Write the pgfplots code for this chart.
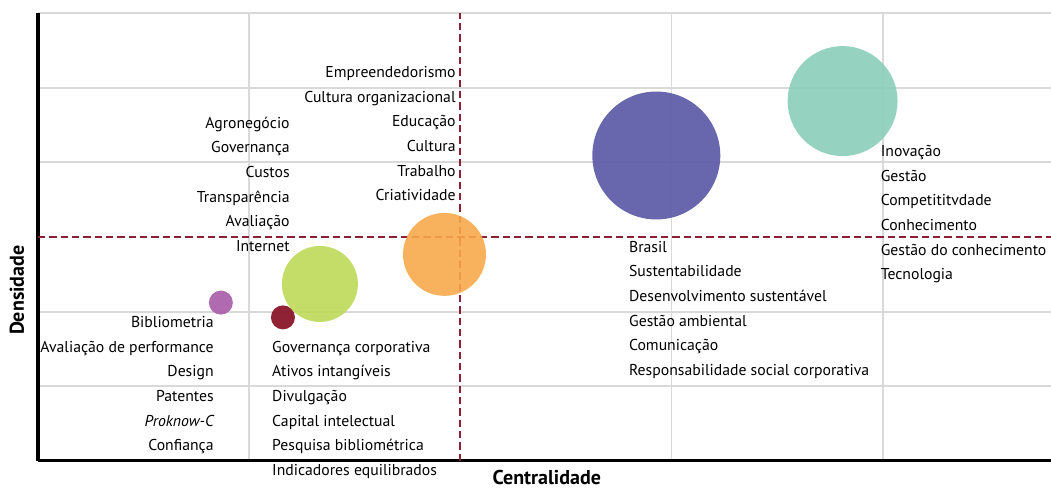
\documentclass[border=0pt]{standalone}
\usepackage{fontspec}
\setmainfont{PT Sans}
\usepackage{pgfplots}
\pgfplotsset{compat=1.18}
\definecolor{cpurp}{HTML}{AC63AC}
\definecolor{cdred}{HTML}{8B1C2E}
\definecolor{cgreen}{HTML}{BFD95B}
\definecolor{corange}{HTML}{F7A84A}
\definecolor{cblue}{HTML}{6260AA}
\definecolor{cteal}{HTML}{8ECFBB}
\definecolor{cdash}{HTML}{8B2035}
\newcommand{\lab}{\fontsize{11.8pt}{13pt}\selectfont}
\tikzset{lbl/.style={font=\lab, inner sep=0pt}}
\begin{document}
\begin{tikzpicture}
\useasboundingbox (-28.5pt,-21.5pt) rectangle (760pt,345.75pt);
\begin{axis}[
  at={(0,0)}, anchor=south west,
  scale only axis, width=760pt, height=336pt,
  xmin=0, xmax=4.797, ymin=0, ymax=6,
  axis x line=bottom, axis y line=left,
  axis line style={-, black, line width=2.3pt},
  xtick={1,3,4}, ytick={1,2,4,5,6},
  xticklabels={}, yticklabels={},
  major tick length=0pt,
  grid=major, grid style={black!15, line width=1.4pt},
  clip=false,
  xlabel={\bfseries Centralidade},
  ylabel={\bfseries Densidade},
  label style={font=\fontsize{15pt}{17pt}\selectfont, inner sep=0pt},
  xlabel style={at={(axis description cs:0.5023,-0.037)}, anchor=center},
  ylabel style={at={(axis description cs:-0.0207,0.381)}, anchor=center},
  every axis plot/.append style={only marks, mark=*},
]
\addplot[no marks, sharp plot, cdash, line width=1.4pt, dash pattern=on 5.5pt off 3pt] coordinates {(2,0) (2,6)};
\addplot[no marks, sharp plot, cdash, line width=1.4pt, dash pattern=on 5.5pt off 3pt] coordinates {(0,3) (4.797,3)};
\addplot[cpurp, mark options={fill=cpurp, draw opacity=0, fill opacity=0.95}, mark size=9pt] coordinates {(0.866,2.12)};
\addplot[cdred, mark options={fill=cdred, draw opacity=0, fill opacity=0.97}, mark size=9pt] coordinates {(1.160,1.922)};
\addplot[cgreen, mark options={fill=cgreen, draw opacity=0, fill opacity=0.92}, mark size=28.5pt] coordinates {(1.335,2.37)};
\addplot[corange, mark options={fill=corange, draw opacity=0, fill opacity=0.9}, mark size=31.1pt] coordinates {(1.925,2.766)};
\addplot[cblue, mark options={fill=cblue, draw opacity=0, fill opacity=0.96}, mark size=48pt] coordinates {(2.928,4.091)};
\addplot[cteal, mark options={fill=cteal, draw opacity=0, fill opacity=0.94}, mark size=41.25pt] coordinates {(3.81,4.82)};
% group A
\node[lbl, anchor=mid east] at (axis cs:1.193,4.50) {Agronegócio};
\node[lbl, anchor=mid east] at (axis cs:1.193,4.17) {Governança};
\node[lbl, anchor=mid east] at (axis cs:1.193,3.84) {Custos};
\node[lbl, anchor=mid east] at (axis cs:1.193,3.51) {Transparência};
\node[lbl, anchor=mid east] at (axis cs:1.193,3.18) {Avaliação};
\node[lbl, anchor=mid east] at (axis cs:1.193,2.85) {Internet};
% group B
\node[lbl, anchor=mid east] at (axis cs:1.979,5.18) {Empreendedorismo};
\node[lbl, anchor=mid east] at (axis cs:1.979,4.85) {Cultura organizacional};
\node[lbl, anchor=mid east] at (axis cs:1.979,4.52) {Educação};
\node[lbl, anchor=mid east] at (axis cs:1.979,4.19) {Cultura};
\node[lbl, anchor=mid east] at (axis cs:1.979,3.86) {Trabalho};
\node[lbl, anchor=mid east] at (axis cs:1.979,3.53) {Criatividade};
% group C
\node[lbl, anchor=mid east] at (axis cs:0.833,1.83) {Bibliometria};
\node[lbl, anchor=mid east] at (axis cs:0.833,1.50) {Avaliação de performance};
\node[lbl, anchor=mid east] at (axis cs:0.833,1.17) {Design};
\node[lbl, anchor=mid east] at (axis cs:0.833,0.84) {Patentes};
\node[lbl, anchor=mid east] at (axis cs:0.833,0.51) {\itshape Proknow-C};
\node[lbl, anchor=mid east] at (axis cs:0.833,0.18) {Confiança};
% group D
\node[lbl, anchor=mid west] at (axis cs:1.108,1.50) {Governança corporativa};
\node[lbl, anchor=mid west] at (axis cs:1.108,1.17) {Ativos intangíveis};
\node[lbl, anchor=mid west] at (axis cs:1.108,0.84) {Divulgação};
\node[lbl, anchor=mid west] at (axis cs:1.108,0.51) {Capital intelectual};
\node[lbl, anchor=mid west] at (axis cs:1.108,0.18) {Pesquisa bibliométrica};
\node[lbl, anchor=mid west] at (axis cs:1.108,-0.15) {Indicadores equilibrados};
% group E
\node[lbl, anchor=mid west] at (axis cs:2.798,2.84) {Brasil};
\node[lbl, anchor=mid west] at (axis cs:2.798,2.51) {Sustentabilidade};
\node[lbl, anchor=mid west] at (axis cs:2.798,2.18) {Desenvolvimento sustentável};
\node[lbl, anchor=mid west] at (axis cs:2.798,1.85) {Gestão ambiental};
\node[lbl, anchor=mid west] at (axis cs:2.798,1.52) {Comunicação};
\node[lbl, anchor=mid west] at (axis cs:2.798,1.19) {Responsabilidade social corporativa};
% group F
\node[lbl, anchor=mid west] at (axis cs:3.99,4.12) {Inovação};
\node[lbl, anchor=mid west] at (axis cs:3.99,3.79) {Gestão};
\node[lbl, anchor=mid west] at (axis cs:3.99,3.46) {Competititvdade};
\node[lbl, anchor=mid west] at (axis cs:3.99,3.13) {Conhecimento};
\node[lbl, anchor=mid west] at (axis cs:3.99,2.80) {Gestão do conhecimento};
\node[lbl, anchor=mid west] at (axis cs:3.99,2.47) {Tecnologia};
\end{axis}
\end{tikzpicture}
\end{document}
